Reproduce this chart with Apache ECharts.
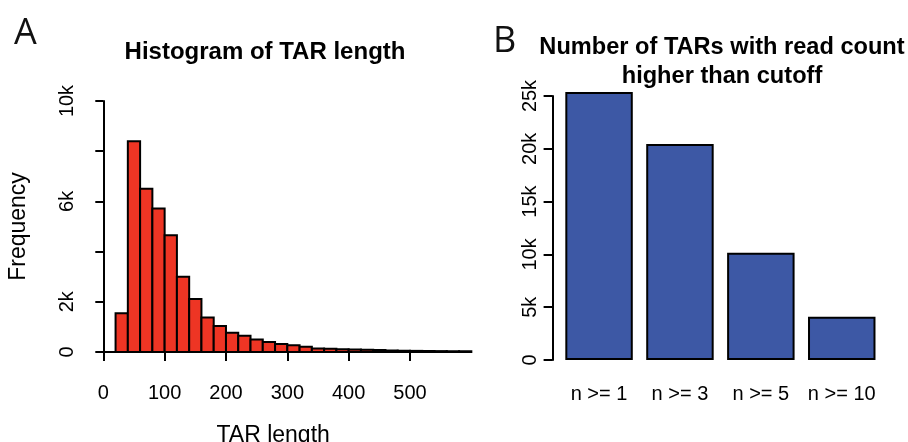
<!DOCTYPE html>
<html>
<head>
<meta charset="utf-8">
<script src="https://cdn.jsdelivr.net/npm/echarts@6/dist/echarts.min.js"></script>
<style>
  html, body { margin: 0; padding: 0; background: #fff; }
  #main { width: 908px; height: 442px; }
</style>
</head>
<body>
<div id="main"></div>
<script>
// histogram of TAR length (bin edges and counts)
var binStarts = [20, 40, 60, 80, 100, 120, 140, 160, 180, 200, 220, 240, 260, 280, 300,
                 320, 340, 360, 380, 400, 420, 440, 460, 480, 500, 520, 540, 560, 580];
var binEnds = [40, 60, 80, 100, 120, 140, 160, 180, 200, 220, 240, 260, 280, 300, 320,
               340, 360, 380, 400, 420, 440, 460, 480, 500, 520, 540, 560, 580, 600];
var binCounts = [1540, 8400, 6500, 5720, 4650, 3000, 2110, 1370, 1040, 770, 650, 500, 400, 320, 270,
                 210, 140, 130, 110, 100, 90, 80, 60, 50, 45, 40, 35, 30, 30];
var histYTicks = {0: '0', 2000: '2k', 6000: '6k', 10000: '10k'};

// TARs above read count cutoff
var cutoffs = ['n >= 1', 'n >= 3', 'n >= 5', 'n >= 10'];
var tarCounts = [25380, 20450, 10160, 4100];
var cutYTicks = {0: '0', 5000: '5k', 10000: '10k', 15000: '15k', 20000: '20k', 25000: '25k'};

var FONT = '"Liberation Sans", Arial, sans-serif';

var histData = [];
for (var i = 0; i < binStarts.length; i++) {
  histData.push([binStarts[i], binEnds[i], binCounts[i]]);
}

var chart = echarts.init(document.getElementById('main'));

chart.setOption({
  animation: false,
  backgroundColor: '#fff',
  title: [
    { text: 'A', left: 9, top: 11, textStyle: { fontFamily: '"Open Sans", sans-serif', fontWeight: 'normal', fontSize: 36, color: '#111' } },
    { text: 'B', left: 488, top: 19, textStyle: { fontFamily: '"Open Sans", sans-serif', fontWeight: 'normal', fontSize: 36, color: '#111' } },
    { text: 'Histogram of TAR length', left: 260, top: 35, textAlign: 'center',
      textStyle: { fontFamily: FONT, fontWeight: 'bold', fontSize: 24, color: '#000' } },
    { text: 'Number of TARs with read count\nhigher than cutoff', left: 717, top: 28, textAlign: 'center',
      textStyle: { fontFamily: FONT, fontWeight: 'bold', fontSize: 23.6, lineHeight: 29, color: '#000' } }
  ],
  grid: [
    { left: 103.3, width: 306.7, top: 101, bottom: 90, outerBoundsMode: 'none' },
    { left: 558.6, width: 323.6, top: 96, bottom: 82, outerBoundsMode: 'none' }
  ],
  xAxis: [
    {
      gridIndex: 0, type: 'value', min: 0, max: 500, interval: 100, offset: 10,
      name: 'TAR length', nameLocation: 'middle', nameGap: 62,
      nameTextStyle: { fontFamily: FONT, fontSize: 23, color: '#000', padding: [0, 0, 0, 33] },
      axisLine: { show: true, lineStyle: { color: '#000', width: 2 } },
      axisTick: { show: true, length: 9, lineStyle: { color: '#000', width: 2 } },
      axisLabel: { fontFamily: FONT, fontSize: 20, color: '#000', margin: 21 },
      splitLine: { show: false }
    },
    {
      gridIndex: 1, type: 'category', data: cutoffs,
      axisLine: { show: false }, axisTick: { show: false },
      axisLabel: { fontFamily: FONT, fontSize: 20, color: '#000', margin: 24, interval: 0 }
    }
  ],
  yAxis: [
    {
      gridIndex: 0, type: 'value', min: 0, max: 10000, interval: 2000, offset: 12,
      name: 'Frequency', nameLocation: 'middle', nameGap: 61, nameRotate: 90,
      nameTextStyle: { fontFamily: FONT, fontSize: 23, color: '#000' },
      axisLine: { show: true, lineStyle: { color: '#000', width: 2 } },
      axisTick: { show: true, length: 8, lineStyle: { color: '#000', width: 2 } },
      axisLabel: {
        fontFamily: FONT, fontSize: 20, color: '#000', rotate: 90, margin: 14,
        formatter: function (v) { return histYTicks[v] || ''; }
      },
      splitLine: { show: false }
    },
    {
      gridIndex: 1, type: 'value', min: 0, max: 25000, interval: 5000, offset: 6,
      axisLine: { show: true, lineStyle: { color: '#000', width: 2 } },
      axisTick: { show: true, length: 9, lineStyle: { color: '#000', width: 2 } },
      axisLabel: {
        fontFamily: FONT, fontSize: 20, color: '#000', rotate: 90, margin: 12,
        formatter: function (v) { return cutYTicks[v] || ''; }
      },
      splitLine: { show: false }
    }
  ],
  series: [
    {
      type: 'custom', xAxisIndex: 0, yAxisIndex: 0, clip: false,
      data: histData,
      renderItem: function (params, api) {
        var p0 = api.coord([api.value(0), 0]);
        var p1 = api.coord([api.value(1), api.value(2)]);
        return {
          type: 'rect',
          shape: { x: p0[0], y: p1[1], width: p1[0] - p0[0], height: p0[1] - p1[1] },
          style: { fill: '#EE3524', stroke: '#000', lineWidth: 2 }
        };
      }
    },
    {
      type: 'bar', xAxisIndex: 1, yAxisIndex: 1, clip: false,
      data: tarCounts, barWidth: '83.4%',
      itemStyle: { color: '#3D58A5', borderColor: '#000', borderWidth: 2 }
    }
  ]
});
</script>
</body>
</html>
